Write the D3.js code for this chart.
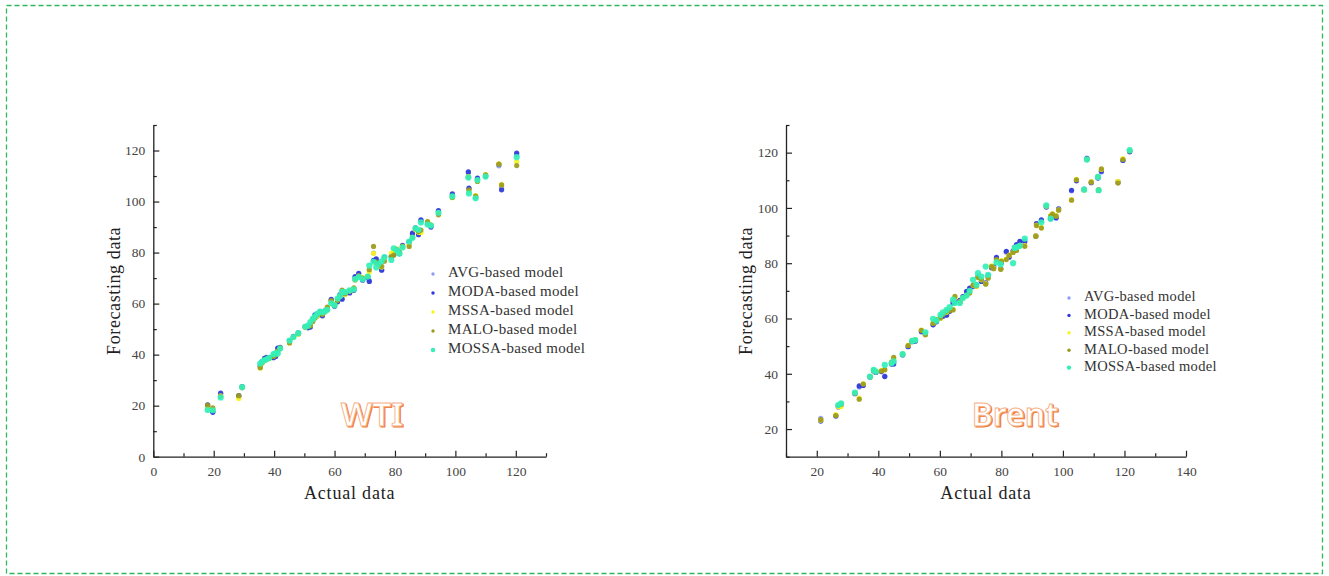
<!DOCTYPE html>
<html>
<head>
<meta charset="utf-8">
<script src="https://cdn.jsdelivr.net/npm/d3@7"></script>
<style>
  body { margin: 0; background: #fff; }
</style>
</head>
<body>
<div id="chart"></div>
<script>
// series names shared by both panels
const seriesNames = ["AVG-based model", "MODA-based model", "MSSA-based model", "MALO-based model", "MOSSA-based model"];
const seriesColors = ["#8d9df4", "#2f38d8", "#f6f41a", "#9c9a1c", "#33f0b8"];

// WTI panel
const wtiXTicks = [0, 20, 40, 60, 80, 100, 120];
const wtiYTicks = [0, 20, 40, 60, 80, 100, 120];
const wtiActual = [18.0, 19.7, 22.3, 28.3, 29.4, 35.4, 36.0, 36.8, 37.5, 38.3, 39.8, 40.5, 41.2, 42.0, 45.1, 46.4, 48.0, 50.3, 51.2, 52.0, 52.8, 53.5, 54.3, 55.2, 56.0, 56.8, 57.6, 58.9, 60.0, 61.0, 61.8, 62.5, 63.5, 65.0, 66.4, 66.8, 68.0, 69.3, 71.0, 71.5, 72.9, 73.8, 74.5, 75.6, 76.5, 78.8, 79.6, 80.6, 81.5, 82.5, 84.7, 85.8, 86.8, 87.8, 88.6, 90.8, 91.9, 94.4, 99.0, 104.3, 104.5, 106.7, 107.3, 110.0, 114.4, 115.3, 120.3];
const wtiAVG = [19.6, 17.8, 24.3, 23.6, 27.0, 35.2, 37.0, 38.0, 38.4, 38.6, 39.0, 39.6, 42.3, 42.6, 45.0, 47.0, 48.3, 50.8, 50.9, 51.2, 53.5, 55.2, 55.0, 56.5, 55.5, 56.9, 58.0, 61.3, 59.3, 61.0, 63.2, 62.0, 63.8, 64.5, 65.5, 70.3, 71.6, 69.5, 70.4, 69.0, 79.8, 77.2, 75.3, 73.4, 77.8, 78.6, 79.5, 81.0, 79.8, 82.5, 83.8, 87.3, 89.4, 87.3, 92.5, 91.7, 90.3, 96.2, 102.6, 111.2, 105.0, 102.0, 108.9, 110.3, 114.0, 105.6, 118.4];
const wtiMODA = [20.3, 17.4, 24.9, 23.9, 27.5, 35.5, 37.3, 38.5, 38.9, 38.8, 38.8, 39.3, 42.6, 42.9, 45.3, 47.2, 48.5, 51.0, 50.5, 50.8, 53.9, 55.6, 55.3, 56.8, 55.2, 57.2, 57.8, 61.7, 59.0, 60.7, 63.5, 61.7, 64.2, 64.2, 65.2, 70.6, 71.9, 69.2, 70.2, 68.7, 77.0, 77.5, 75.6, 73.1, 78.1, 78.4, 79.2, 81.3, 79.5, 82.8, 84.1, 87.6, 89.7, 87.0, 92.8, 91.5, 90.0, 96.5, 103.0, 111.6, 105.3, 101.8, 109.2, 110.1, 114.6, 104.6, 119.0];
const wtiMSSA = [19.0, 18.6, 23.8, 22.8, 27.1, 34.8, 36.6, 37.6, 38.2, 38.4, 39.5, 40.0, 41.2, 42.4, 44.7, 46.8, 48.0, 50.6, 51.2, 51.5, 53.2, 54.6, 55.1, 56.3, 56.0, 56.7, 58.3, 60.9, 59.6, 61.5, 62.8, 64.8, 63.6, 64.9, 66.0, 69.5, 70.8, 70.2, 70.8, 72.5, 79.7, 75.2, 75.0, 74.3, 77.4, 79.8, 80.4, 81.5, 79.9, 82.3, 83.0, 86.0, 88.9, 88.0, 87.8, 92.0, 90.9, 95.3, 101.5, 109.8, 104.0, 102.3, 108.0, 110.6, 114.8, 106.6, 115.7];
const wtiMALO = [20.2, 19.1, 23.6, 23.9, 27.2, 34.9, 36.8, 37.8, 38.3, 38.6, 39.3, 40.1, 41.5, 42.7, 44.6, 47.0, 48.2, 50.8, 51.1, 51.3, 53.0, 54.4, 55.6, 56.4, 55.8, 56.8, 58.6, 61.2, 59.7, 61.2, 62.9, 65.3, 63.9, 65.0, 66.2, 69.3, 70.9, 70.0, 70.6, 73.3, 82.4, 76.3, 75.3, 74.6, 76.6, 78.4, 79.0, 81.2, 80.2, 82.5, 82.4, 85.9, 89.3, 88.3, 88.8, 92.1, 90.8, 94.8, 101.6, 109.6, 104.6, 102.1, 107.9, 110.5, 114.7, 106.5, 114.1];
const wtiMOSSA = [18.3, 18.2, 23.2, null, 27.3, 36.5, 37.2, 37.9, 38.2, 38.7, 40.2, 40.6, 40.4, 42.4, 45.5, 46.9, 48.4, 50.9, 51.4, 52.8, 54.0, 55.0, 56.0, 56.9, 56.6, 57.0, 57.6, 60.1, 59.4, 62.0, 63.0, 64.6, 64.5, 65.2, 65.6, 69.6, 70.4, 69.5, 70.6, 74.9, 76.4, 74.2, 75.5, 76.6, 78.2, 77.1, 81.7, 80.9, 79.6, 82.0, 84.3, 85.8, 89.5, 88.9, 91.8, 91.0, 90.6, 95.6, 102.0, 109.4, 103.2, 101.3, 108.4, 109.8, null, null, 117.4];

// Brent panel
const brentXTicks = [20, 40, 60, 80, 100, 120, 140];
const brentYTicks = [20, 40, 60, 80, 100, 120];
const brentActual = [21.3, 26.2, 27.0, 27.9, 32.4, 33.8, 35.1, 37.3, 38.5, 39.2, 41.0, 42.1, 44.3, 45.0, 47.9, 49.7, 51.0, 52.0, 54.0, 55.3, 57.8, 58.9, 60.2, 61.0, 62.2, 63.2, 64.3, 64.9, 66.5, 67.5, 68.7, 69.7, 70.8, 71.9, 72.4, 73.5, 74.9, 75.7, 76.8, 77.5, 78.4, 79.8, 80.0, 81.6, 82.5, 83.8, 84.3, 84.9, 86.0, 87.6, 91.2, 91.4, 93.0, 94.6, 96.0, 96.6, 97.8, 98.6, 102.8, 104.4, 106.9, 107.8, 109.2, 111.4, 111.6, 112.5, 117.9, 119.5, 121.7];
const brentAVG = [23.9, 25.0, 28.3, 29.0, 33.0, 35.2, 36.0, 39.0, 41.2, 40.6, 41.0, 39.2, 43.6, 44.2, 47.0, 50.0, 51.8, 52.0, 55.5, 54.5, 57.8, 59.0, 60.6, 61.5, 61.4, 62.8, 65.5, 66.5, 66.3, 67.8, 69.6, 70.8, 71.5, 72.0, 75.0, 73.6, 73.0, 75.5, 78.3, 78.6, 81.8, 78.1, 80.5, 84.0, 82.4, 84.5, 85.8, 86.5, 87.7, 88.0, 90.0, 94.2, 95.5, 100.5, 96.3, 97.6, 96.6, 99.8, 106.2, 110.0, 106.8, 118.0, 109.3, 111.0, 106.5, 113.0, 109.5, 117.3, 120.5];
const brentMODA = [22.9, 24.7, 28.0, 28.8, 32.8, 35.6, 35.8, 38.7, 41.0, 40.5, 40.8, 39.0, 43.5, 43.5, 46.8, 49.8, 51.6, 51.8, 55.2, 54.3, 57.7, 58.8, 60.4, 60.8, 61.2, 62.6, 65.8, 66.2, 66.6, 67.9, 69.8, 71.0, 71.7, 72.2, 75.2, 73.4, 72.8, 75.3, 78.5, 78.8, 82.1, 78.0, 80.3, 84.3, 82.2, 84.3, 85.6, 86.7, 87.9, 87.8, 89.8, 94.3, 95.7, 100.3, 96.1, 97.5, 96.4, 99.6, 106.4, 109.8, 106.7, 117.8, 109.1, 110.8, 106.3, 113.3, 109.3, 117.2, 120.3];
const brentMSSA = [23.2, 25.2, 28.1, 28.1, 33.1, 31.2, 36.4, 38.9, 41.3, 40.8, 41.2, 41.4, 44.0, 45.5, 47.2, 50.3, 52.0, 52.3, 55.8, 54.2, 58.4, 59.6, 60.0, 61.6, 62.3, 63.2, 63.3, 67.6, 66.0, 67.4, 68.3, 69.5, 72.0, 71.6, 74.8, 74.0, 72.6, 74.9, 79.0, 78.2, 81.0, 77.9, 80.9, 81.5, 82.9, 84.0, 85.3, 84.8, 86.5, 86.4, 89.9, 93.8, 93.0, 100.6, 97.2, 97.9, 97.2, 99.3, 103.0, 110.3, 106.5, 117.6, 109.5, 111.3, 106.6, 113.9, 109.6, 117.8, 120.8];
const brentMALO = [23.4, 24.9, 28.6, 29.0, 33.0, 30.8, 36.3, 39.1, 41.2, 40.7, 41.0, 41.5, 44.2, 45.9, 47.1, 50.2, 51.8, 52.2, 55.7, 54.1, 58.2, 59.5, 60.2, 61.4, 62.6, 62.8, 63.1, 68.0, 65.8, 67.6, 68.5, 69.2, 72.1, 71.8, 74.9, 74.2, 72.4, 74.6, 78.8, 78.0, 81.3, 77.8, 80.7, 81.3, 82.8, 83.9, 85.2, 84.6, 86.3, 86.1, 89.7, 93.6, 92.7, 100.7, 97.0, 97.8, 97.0, 99.2, 102.8, 110.2, 106.6, 117.5, 109.3, 111.2, 106.5, 114.1, 109.0, 117.5, 120.6];
const brentMOSSA = [null, null, 28.7, 29.3, 33.2, null, null, 39.0, 41.4, 40.8, null, 43.2, 43.8, 44.5, 47.1, null, 51.9, 52.2, null, 55.0, 59.9, 59.2, 61.3, 62.2, 63.1, 64.1, 66.8, 65.6, 65.6, 67.4, 68.3, 70.0, 74.0, 72.2, 76.4, 75.2, 78.8, 75.8, null, null, 80.3, 79.6, null, null, null, 80.0, 85.5, 85.8, 86.3, 88.9, null, null, 94.8, 100.9, 96.1, null, null, null, null, null, 106.6, 117.5, null, 111.2, 106.4, null, null, null, 120.9];

const svg = d3.select("#chart").append("svg")
    .attr("width", 1329)
    .attr("height", 576);

// green dashed frame
svg.append("rect")
    .attr("x", 6.5).attr("y", 5.5)
    .attr("width", 1316).attr("height", 568)
    .attr("fill", "none")
    .attr("stroke", "#2fb65c")
    .attr("stroke-width", 1.3)
    .attr("stroke-dasharray", "5,3");

function drawPanel(p) {
    const x = d3.scaleLinear().domain(p.xDomain).range([p.left, p.right]);
    const y = d3.scaleLinear().domain(p.yDomain).range([p.bottom, p.top]);

    const g = svg.append("g");

    // minor ticks every 10
    const minorX = d3.range(p.xDomain[0], p.xDomain[1] + 1, 10).filter(v => !p.xTicks.includes(v));
    const minorY = d3.range(p.yDomain[0], p.yDomain[1] + 1, 10).filter(v => !p.yTicks.includes(v));

    g.append("g")
        .attr("transform", `translate(0,${p.bottom})`)
        .call(d3.axisBottom(x).tickValues(minorX).tickSize(-3.5).tickSizeOuter(0).tickFormat(""))
        .call(s => s.select(".domain").remove());
    g.append("g")
        .attr("transform", `translate(${p.left},0)`)
        .call(d3.axisLeft(y).tickValues(minorY).tickSize(-3.5).tickSizeOuter(0).tickFormat(""))
        .call(s => s.select(".domain").remove());

    g.append("g")
        .attr("transform", `translate(0,${p.bottom})`)
        .call(d3.axisBottom(x).tickValues(p.xTicks).tickSize(-6).tickSizeOuter(0).tickPadding(10));
    g.append("g")
        .attr("transform", `translate(${p.left},0)`)
        .call(d3.axisLeft(y).tickValues(p.yTicks).tickSize(-6).tickSizeOuter(0).tickPadding(8));

    g.selectAll(".domain").attr("stroke", "#222").attr("stroke-width", 1.3);
    g.selectAll(".tick line").attr("stroke", "#222").attr("stroke-width", 1.2);
    g.selectAll(".tick text")
        .style("font-family", "'Liberation Serif', serif")
        .style("font-size", "13.5px")
        .attr("fill", "#444");

    // axis titles
    g.append("text")
        .attr("x", (p.left + p.right) / 2)
        .attr("y", p.bottom + 42)
        .attr("text-anchor", "middle")
        .style("font-family", "'Liberation Serif', serif")
        .style("font-size", "18px")
        .style("letter-spacing", "0.8px")
        .attr("fill", "#222")
        .text("Actual data");
    g.append("text")
        .attr("transform", `translate(${p.yTitleX},${(p.top + p.bottom) / 2}) rotate(-90)`)
        .attr("text-anchor", "middle")
        .attr("dominant-baseline", "middle")
        .style("font-family", "'Liberation Serif', serif")
        .style("font-size", "18px")
        .style("letter-spacing", "0.6px")
        .attr("fill", "#222")
        .text("Forecasting data");

    // panel label, outlined orange
    g.append("text")
        .attr("x", p.labelX + 1.3).attr("y", p.labelY + 1.3)
        .attr("text-anchor", "middle")
        .style("font-family", "'Noto Sans', sans-serif")
        .style("font-weight", "600")
        .style("font-size", p.labelSize + "px")
        .attr("fill", "#f07a36")
        .attr("stroke", "#f07a36")
        .attr("stroke-width", 0.8)
        .text(p.label);
    g.append("text")
        .attr("x", p.labelX).attr("y", p.labelY)
        .attr("text-anchor", "middle")
        .style("font-family", "'Noto Sans', sans-serif")
        .style("font-weight", "600")
        .style("font-size", p.labelSize + "px")
        .attr("fill", "#fff")
        .attr("stroke", "#f6b088")
        .attr("stroke-width", 0.9)
        .text(p.label);

    // scatter points, one layer per model
    p.series.forEach((vals, i) => {
        const pts = p.actual.map((a, k) => ({ a: a, f: vals[k] })).filter(d => d.f !== null);
        g.append("g")
            .selectAll("circle")
            .data(pts)
            .join("circle")
            .attr("cx", d => x(d.a))
            .attr("cy", d => y(d.f))
            .attr("r", i === 4 ? 3.1 : 2.6)
            .attr("fill", seriesColors[i])
            .attr("opacity", 0.92);
    });

    // legend
    const leg = g.append("g");
    seriesNames.forEach((name, i) => {
        const ly = p.legendY + i * p.legendStep;
        leg.append("circle")
            .attr("cx", p.legendX).attr("cy", ly)
            .attr("r", i === 4 ? 2.2 : 1.7)
            .attr("fill", seriesColors[i]);
        leg.append("text")
            .attr("x", p.legendX + 15).attr("y", ly)
            .attr("dominant-baseline", "middle")
            .style("font-family", "'Liberation Serif', serif")
            .style("font-size", p.legendFont + "px")
            .style("letter-spacing", "0.3px")
            .attr("fill", "#333")
            .text(name);
    });
}

drawPanel({
    left: 153.3, right: 546, top: 125, bottom: 456.7,
    xDomain: [0, 130], yDomain: [0, 130],
    xTicks: wtiXTicks, yTicks: wtiYTicks,
    actual: wtiActual,
    series: [wtiAVG, wtiMODA, wtiMSSA, wtiMALO, wtiMOSSA],
    yTitleX: 116,
    label: "WTI", labelX: 372, labelY: 426, labelSize: 33,
    legendX: 433, legendY: 274, legendStep: 19, legendFont: 15
});

drawPanel({
    left: 786, right: 1186, top: 125, bottom: 456.7,
    xDomain: [10, 140], yDomain: [10, 130],
    xTicks: brentXTicks, yTicks: brentYTicks,
    actual: brentActual,
    series: [brentAVG, brentMODA, brentMSSA, brentMALO, brentMOSSA],
    yTitleX: 748,
    label: "Brent", labelX: 1015, labelY: 426, labelSize: 32,
    legendX: 1069, legendY: 298, legendStep: 17.4, legendFont: 14.5
});
</script>
</body>
</html>
